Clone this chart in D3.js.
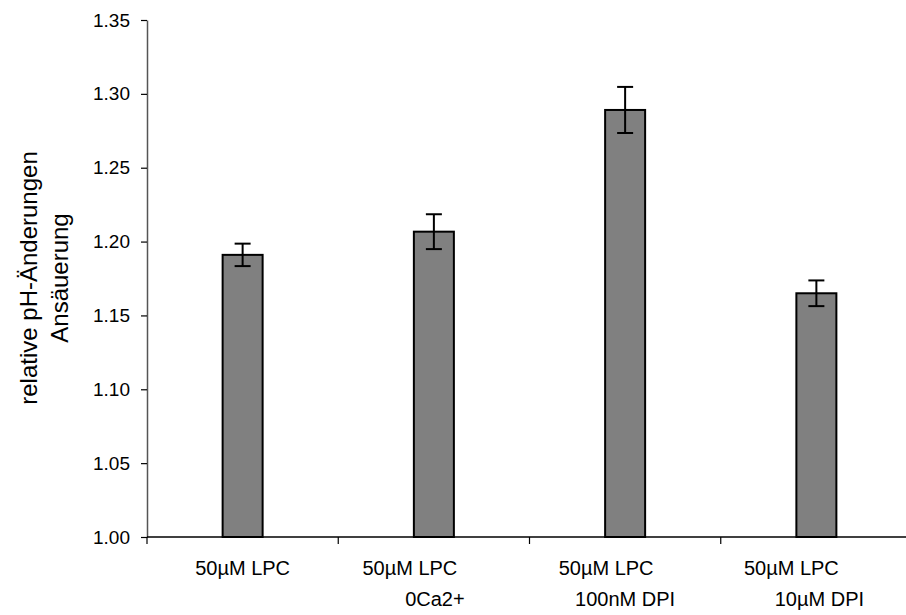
<!DOCTYPE html>
<html><head><meta charset="utf-8">
<script src="https://cdn.jsdelivr.net/npm/d3@7"></script>
<style>body{margin:0;background:#fff}svg{display:block}text{font-family:"Liberation Sans",Arial,sans-serif;fill:#000}</style>
</head><body>
<svg id="c" width="906" height="615"></svg>
<script>
const categories = ["c1","c2","c3","c4"];
const labelLine1 = ["50µM LPC","50µM LPC","50µM LPC","50µM LPC"];
const labelLine2 = ["","0Ca2+","100nM DPI","10µM DPI"];
const values = [1.191, 1.2067, 1.2891, 1.165];
const errors = [0.0076, 0.0118, 0.0156, 0.0087];
const yTicks = [1.00,1.05,1.10,1.15,1.20,1.25,1.30,1.35];
const yTitle = ["relative pH-Änderungen","Ansäuerung"];

// layout
const line1Shift = [0,-24,-19,-25];
const line2Shift = [0,1,0,3];
const W=906,H=615, L=147, T=20, B=537, R=912;
const svg=d3.select("#c");
const x=d3.scaleBand().domain(categories).range([L,R]).paddingInner(0).paddingOuter(0);
const y=d3.scaleLinear().domain([1.0,1.35]).range([B,T]);
const bw=40;

// bars
svg.append("g").selectAll("rect").data(values).join("rect")
 .attr("x",(d,i)=>x(categories[i])+x.bandwidth()/2-bw/2)
 .attr("y",d=>y(d)).attr("width",bw).attr("height",d=>y(1.0)-y(d))
 .attr("fill","#808080").attr("stroke","#000").attr("stroke-width",2);

// error bars
const eg=svg.append("g").attr("stroke","#000").attr("stroke-width",2);
values.forEach((v,i)=>{
  const cx=x(categories[i])+x.bandwidth()/2;
  eg.append("line").attr("x1",cx).attr("x2",cx).attr("y1",y(v+errors[i])).attr("y2",y(v-errors[i]));
  eg.append("line").attr("x1",cx-8).attr("x2",cx+8).attr("y1",y(v+errors[i])).attr("y2",y(v+errors[i]));
  eg.append("line").attr("x1",cx-8).attr("x2",cx+8).attr("y1",y(v-errors[i])).attr("y2",y(v-errors[i]));
});

// y axis
const ya=svg.append("g").attr("transform",`translate(${L},0)`)
 .call(d3.axisLeft(y).tickValues(yTicks).tickFormat(d3.format(".2f")).tickSize(6).tickSizeOuter(0));
ya.select(".domain").attr("stroke","#555").attr("stroke-width",1.5);
ya.selectAll(".tick line").attr("stroke","#000").attr("stroke-width",1.2);
ya.selectAll(".tick text").attr("x",-17).attr("font-size",19).attr("font-family","Liberation Sans, Arial, sans-serif").attr("fill","#000");

// x axis
const xa=svg.append("g").attr("transform",`translate(0,${B})`);
xa.append("line").attr("x1",L).attr("x2",W).attr("stroke","#000").attr("stroke-width",1.5);
const bounds=categories.map(c=>x(c));
xa.selectAll("line.t").data(bounds).join("line").attr("class","t")
 .attr("x1",d=>d).attr("x2",d=>d).attr("y1",0).attr("y2",7).attr("stroke","#000").attr("stroke-width",1.2);

const xl=svg.append("g").attr("font-size",20).attr("text-anchor","middle");
categories.forEach((c,i)=>{
  const cx=x(c)+x.bandwidth()/2;
  xl.append("text").attr("x",cx+line1Shift[i]).attr("y",575).text(labelLine1[i]);
  if(labelLine2[i]) xl.append("text").attr("x",cx+line2Shift[i]).attr("y",606).text(labelLine2[i]);
});

// y title
const tg=svg.append("g").attr("transform",`translate(0,278) rotate(-90)`).attr("font-size",24).attr("text-anchor","middle");
tg.append("text").attr("x",0).attr("y",37).text(yTitle[0]);
tg.append("text").attr("x",0).attr("y",68).text(yTitle[1]);
</script>
</body></html>
